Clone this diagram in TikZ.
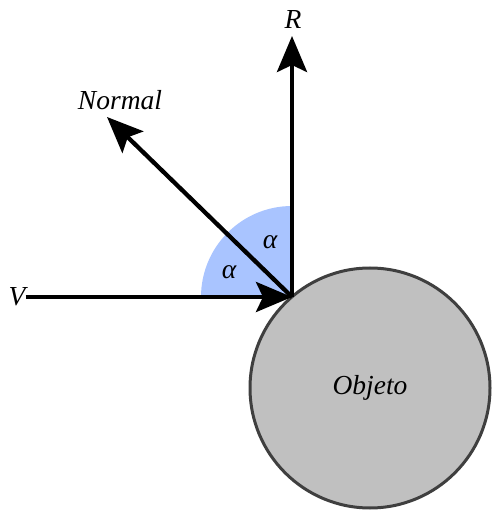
\documentclass[tikz,border=0pt]{standalone}
\usepackage{fontspec}
\setmainfont{Liberation Serif}
\usepackage{xcolor}
\usetikzlibrary{arrows.meta}
\definecolor{ink}{HTML}{000000}
\definecolor{rim}{HTML}{3F3F3F}
\definecolor{body}{HTML}{C0C0C0}
\definecolor{sector}{HTML}{A9C4FF}
\newcommand{\lbl}[1]{\textit{#1}}
\begin{document}
\begin{tikzpicture}[x=1pt,y=1pt,
    every node/.style={font=\fontsize{27.5}{30}\selectfont\itshape,inner sep=0pt},
    vec/.style={-{Stealth[length=36pt,width=30pt,inset=7pt]},line width=4.3pt,ink},
    ball/.style={circle,draw=rim,line width=3pt,fill=body,minimum size=240pt}]
    \useasboundingbox (0,0) rectangle (491,517);
    \coordinate (hit) at (292,220);
    \fill[sector] (hit) -- ++(180:91pt) arc[start angle=180,end angle=90,radius=91pt] -- cycle;
    \node[ball] (obj) at (370,129) {Objeto};
    \node (R) at (293,497) {\lbl{R}};
    \node (nrm) at (120,417) {\lbl{Normal}};
    \node (V) at (17,220) {\lbl{V}};
    \coordinate (rtip) at (292,481);
    \coordinate (ntip) at (107,400);
    \node (a1) at (229,245) {α};
    \node (a2) at (270,275) {α};
    \draw[vec] (V.east) -- (hit);
    \draw[vec] (hit) -- (rtip);
    \draw[vec] (hit) -- (ntip);
\end{tikzpicture}
\end{document}
